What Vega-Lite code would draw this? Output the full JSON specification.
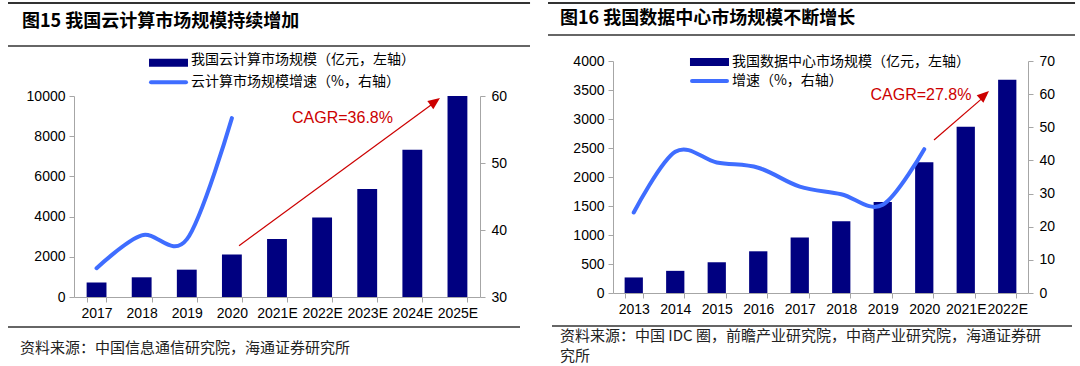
{
  "$schema": "https://vega.github.io/schema/vega-lite/v6.json",
  "width": 1080,
  "height": 366,
  "autosize": {"type": "none"},
  "padding": 0,
  "background": "white",
  "config": {
    "view": {"stroke": null},
    "axis": {"labelFont": "Liberation Sans", "labelFontSize": 14, "labelColor": "#000000", "domainColor": "#A6A6A6", "tickColor": "#A6A6A6", "grid": false, "tickSize": 5},
    "text": {"font": "Noto Sans CJK SC"}
  },
  "datasets": {
    "cloud": [
      {"year": "2017", "size": 720, "growth": 34.3},
      {"year": "2018", "size": 980, "growth": 39.2},
      {"year": "2019", "size": 1360, "growth": 38.6},
      {"year": "2020", "size": 2110, "growth": 56.7},
      {"year": "2021E", "size": 2890, "growth": null},
      {"year": "2022E", "size": 3950, "growth": null},
      {"year": "2023E", "size": 5370, "growth": null},
      {"year": "2024E", "size": 7330, "growth": null},
      {"year": "2025E", "size": 10000, "growth": null}
    ],
    "idc": [
      {"year": "2013", "size": 268, "growth": 24.3},
      {"year": "2014", "size": 382, "growth": 42.6},
      {"year": "2015", "size": 530, "growth": 39.4},
      {"year": "2016", "size": 719, "growth": 37.8},
      {"year": "2017", "size": 958, "growth": 32.1},
      {"year": "2018", "size": 1238, "growth": 29.8},
      {"year": "2019", "size": 1569, "growth": 26.6},
      {"year": "2020", "size": 2253, "growth": 43.4},
      {"year": "2021E", "size": 2865, "growth": null},
      {"year": "2022E", "size": 3675, "growth": null}
    ]
  },
  "layer": [
    {
      "data": {"name": "cloud"},
      "encoding": {
        "x": {"field": "year", "type": "ordinal", "title": null,
          "scale": {"range": [74, 480], "paddingInner": 0.56, "paddingOuter": 0.28},
          "axis": {"orient": "bottom", "offset": -69, "labelAngle": 0, "tickBand": "extent", "labelPadding": 4, "labelOverlap": false}}
      },
      "layer": [
        {
          "mark": {"type": "bar", "color": "#000080"},
          "encoding": {
            "y": {"field": "size", "type": "quantitative", "title": null,
              "scale": {"domain": [0, 10000], "range": [297, 96], "nice": false},
              "axis": {"orient": "left", "offset": -74, "values": [0, 2000, 4000, 6000, 8000, 10000], "format": "d", "labelPadding": 4}}
          }
        },
        {
          "transform": [{"filter": "isValid(datum.growth)"}],
          "mark": {"type": "line", "interpolate": "cardinal", "strokeWidth": 4, "strokeCap": "round", "color": "#3F6DFF"},
          "encoding": {
            "y": {"field": "growth", "type": "quantitative", "title": null,
              "scale": {"domain": [30, 60], "range": [297, 96], "nice": false, "zero": false},
              "axis": {"orient": "right", "offset": -600, "values": [30, 40, 50, 60], "labelPadding": 6}}
          }
        }
      ],
      "resolve": {"scale": {"y": "independent"}}
    },
    {
      "data": {"values": [{}]},
      "layer": [
        {
          "mark": {"type": "rule", "color": "#333333", "strokeWidth": 2},
          "encoding": {
            "x": {"datum": -1.463, "type": "quantitative", "scale": {"domain": [0, 9], "range": [74, 480], "nice": false, "zero": false}, "axis": null},
            "x2": {"datum": 10.109},
            "y": {"datum": 14627, "type": "quantitative", "scale": {"domain": [0, 10000], "range": [297, 96], "nice": false, "zero": false}, "axis": null}
          }
        },
        {
          "mark": {"type": "rule", "color": "#333333", "strokeWidth": 1.5},
          "encoding": {
            "x": {"datum": -1.463, "type": "quantitative"},
            "x2": {"datum": 10.109},
            "y": {"datum": 12488, "type": "quantitative"}
          }
        },
        {
          "mark": {"type": "rule", "color": "#333333", "strokeWidth": 1.5},
          "encoding": {
            "x": {"datum": -1.463, "type": "quantitative"},
            "x2": {"datum": 9.887},
            "y": {"datum": -1493, "type": "quantitative"}
          }
        },
        {
          "mark": {"type": "text", "text": "图15 我国云计算市场规模持续增加", "align": "left", "baseline": "middle", "fontSize": 18, "fontWeight": "bold", "color": "#000000"},
          "encoding": {
            "x": {"datum": -1.153, "type": "quantitative"},
            "y": {"datum": 13682, "type": "quantitative"}
          }
        },
        {
          "mark": {"type": "text", "text": "资料来源：中国信息通信研究院，海通证券研究所", "align": "left", "baseline": "middle", "fontSize": 15, "color": "#222222"},
          "encoding": {
            "x": {"datum": -1.197, "type": "quantitative"},
            "y": {"datum": -2537, "type": "quantitative"}
          }
        },
        {
          "mark": {"type": "rect", "color": "#000080"},
          "encoding": {
            "x": {"datum": 1.663, "type": "quantitative"},
            "x2": {"datum": 2.527},
            "y": {"datum": 11856, "type": "quantitative"},
            "y2": {"datum": 11458}
          }
        },
        {
          "mark": {"type": "text", "text": "我国云计算市场规模（亿元，左轴）", "align": "left", "baseline": "middle", "fontSize": 14, "color": "#000000"},
          "encoding": {
            "x": {"datum": 2.594, "type": "quantitative"},
            "y": {"datum": 11806, "type": "quantitative"}
          }
        },
        {
          "mark": {"type": "rule", "color": "#3F6DFF", "strokeWidth": 4, "strokeCap": "round"},
          "encoding": {
            "x": {"datum": 1.707, "type": "quantitative"},
            "x2": {"datum": 2.483},
            "y": {"datum": 10682, "type": "quantitative"}
          }
        },
        {
          "mark": {"type": "text", "text": "云计算市场规模增速（%，右轴）", "align": "left", "baseline": "middle", "fontSize": 14, "color": "#000000"},
          "encoding": {
            "x": {"datum": 2.594, "type": "quantitative"},
            "y": {"datum": 10682, "type": "quantitative"}
          }
        },
        {
          "mark": {"type": "text", "text": "CAGR=36.8%", "align": "center", "baseline": "middle", "fontSize": 16, "font": "Liberation Sans", "color": "#CC0000"},
          "encoding": {
            "x": {"datum": 5.952, "type": "quantitative"},
            "y": {"datum": 8891, "type": "quantitative"}
          }
        },
        {
          "mark": {"type": "rule", "color": "#CC0000", "strokeWidth": 1.2},
          "encoding": {
            "x": {"datum": 3.658, "type": "quantitative"},
            "x2": {"datum": 8.05},
            "y": {"datum": 2552, "type": "quantitative"},
            "y2": {"datum": 9780}
          }
        },
        {
          "mark": {"type": "point", "shape": "M0,0L0.42,1L-0.42,1Z", "size": 576, "filled": true, "color": "#CC0000", "opacity": 1, "angle": 53.6},
          "encoding": {
            "x": {"datum": 8.113, "type": "quantitative"},
            "y": {"datum": 9900, "type": "quantitative"}
          }
        }
      ]
    },
    {
      "data": {"name": "idc"},
      "encoding": {
        "x": {"field": "year", "type": "ordinal", "title": null,
          "scale": {"range": [613, 1028], "paddingInner": 0.56, "paddingOuter": 0.28},
          "axis": {"orient": "bottom", "offset": -73, "labelAngle": 0, "tickBand": "extent", "labelPadding": 4, "labelOverlap": false}}
      },
      "layer": [
        {
          "mark": {"type": "bar", "color": "#000080"},
          "encoding": {
            "y": {"field": "size", "type": "quantitative", "title": null,
              "scale": {"domain": [0, 4000], "range": [293, 61], "nice": false},
              "axis": {"orient": "left", "offset": -613, "values": [0, 500, 1000, 1500, 2000, 2500, 3000, 3500, 4000], "format": "d", "labelPadding": 4}}
          }
        },
        {
          "transform": [{"filter": "isValid(datum.growth)"}],
          "mark": {"type": "line", "interpolate": "cardinal", "strokeWidth": 4, "strokeCap": "round", "color": "#3F6DFF"},
          "encoding": {
            "y": {"field": "growth", "type": "quantitative", "title": null,
              "scale": {"domain": [0, 70], "range": [293, 61], "nice": false},
              "axis": {"orient": "right", "offset": -52, "values": [0, 10, 20, 30, 40, 50, 60, 70], "labelPadding": 6}}
          }
        }
      ],
      "resolve": {"scale": {"y": "independent"}}
    },
    {
      "data": {"values": [{}]},
      "layer": [
        {
          "mark": {"type": "rule", "color": "#333333", "strokeWidth": 2},
          "encoding": {
            "x": {"datum": -1.566, "type": "quantitative", "scale": {"domain": [0, 10], "range": [613, 1028], "nice": false, "zero": false}, "axis": null},
            "x2": {"datum": 11.133},
            "y": {"datum": 5000, "type": "quantitative", "scale": {"domain": [0, 4000], "range": [293, 61], "nice": false, "zero": false}, "axis": null}
          }
        },
        {
          "mark": {"type": "rule", "color": "#333333", "strokeWidth": 1.5},
          "encoding": {
            "x": {"datum": -1.566, "type": "quantitative"},
            "x2": {"datum": 11.133},
            "y": {"datum": 4448, "type": "quantitative"}
          }
        },
        {
          "mark": {"type": "rule", "color": "#333333", "strokeWidth": 1.5},
          "encoding": {
            "x": {"datum": -1.47, "type": "quantitative"},
            "x2": {"datum": 11.06},
            "y": {"datum": -569, "type": "quantitative"}
          }
        },
        {
          "mark": {"type": "text", "text": "图16 我国数据中心市场规模不断增长", "align": "left", "baseline": "middle", "fontSize": 18, "fontWeight": "bold", "color": "#000000"},
          "encoding": {
            "x": {"datum": -1.277, "type": "quantitative"},
            "y": {"datum": 4724, "type": "quantitative"}
          }
        },
        {
          "mark": {"type": "text", "text": "资料来源：中国 IDC 圈，前瞻产业研究院，中商产业研究院，海通证券研", "align": "left", "baseline": "middle", "fontSize": 15, "color": "#222222"},
          "encoding": {
            "x": {"datum": -1.277, "type": "quantitative"},
            "y": {"datum": -741, "type": "quantitative"}
          }
        },
        {
          "mark": {"type": "text", "text": "究所", "align": "left", "baseline": "middle", "fontSize": 15, "color": "#222222"},
          "encoding": {
            "x": {"datum": -1.277, "type": "quantitative"},
            "y": {"datum": -1086, "type": "quantitative"}
          }
        },
        {
          "mark": {"type": "rect", "color": "#000080"},
          "encoding": {
            "x": {"datum": 1.855, "type": "quantitative"},
            "x2": {"datum": 2.795},
            "y": {"datum": 4052, "type": "quantitative"},
            "y2": {"datum": 3914}
          }
        },
        {
          "mark": {"type": "text", "text": "我国数据中心市场规模（亿元，左轴）", "align": "left", "baseline": "middle", "fontSize": 14, "color": "#000000"},
          "encoding": {
            "x": {"datum": 2.867, "type": "quantitative"},
            "y": {"datum": 3983, "type": "quantitative"}
          }
        },
        {
          "mark": {"type": "rule", "color": "#3F6DFF", "strokeWidth": 4, "strokeCap": "round"},
          "encoding": {
            "x": {"datum": 1.904, "type": "quantitative"},
            "x2": {"datum": 2.747},
            "y": {"datum": 3655, "type": "quantitative"}
          }
        },
        {
          "mark": {"type": "text", "text": "增速（%，右轴）", "align": "left", "baseline": "middle", "fontSize": 14, "color": "#000000"},
          "encoding": {
            "x": {"datum": 2.867, "type": "quantitative"},
            "y": {"datum": 3655, "type": "quantitative"}
          }
        },
        {
          "mark": {"type": "text", "text": "CAGR=27.8%", "align": "center", "baseline": "middle", "fontSize": 16, "font": "Liberation Sans", "color": "#CC0000"},
          "encoding": {
            "x": {"datum": 7.42, "type": "quantitative"},
            "y": {"datum": 3414, "type": "quantitative"}
          }
        },
        {
          "mark": {"type": "rule", "color": "#CC0000", "strokeWidth": 1.2},
          "encoding": {
            "x": {"datum": 7.735, "type": "quantitative"},
            "x2": {"datum": 9.0},
            "y": {"datum": 2638, "type": "quantitative"},
            "y2": {"datum": 3420}
          }
        },
        {
          "mark": {"type": "point", "shape": "M0,0L0.42,1L-0.42,1Z", "size": 576, "filled": true, "color": "#CC0000", "opacity": 1, "angle": 48.3},
          "encoding": {
            "x": {"datum": 9.06, "type": "quantitative"},
            "y": {"datum": 3483, "type": "quantitative"}
          }
        }
      ]
    }
  ],
  "resolve": {"scale": {"x": "independent", "y": "independent"}}
}
